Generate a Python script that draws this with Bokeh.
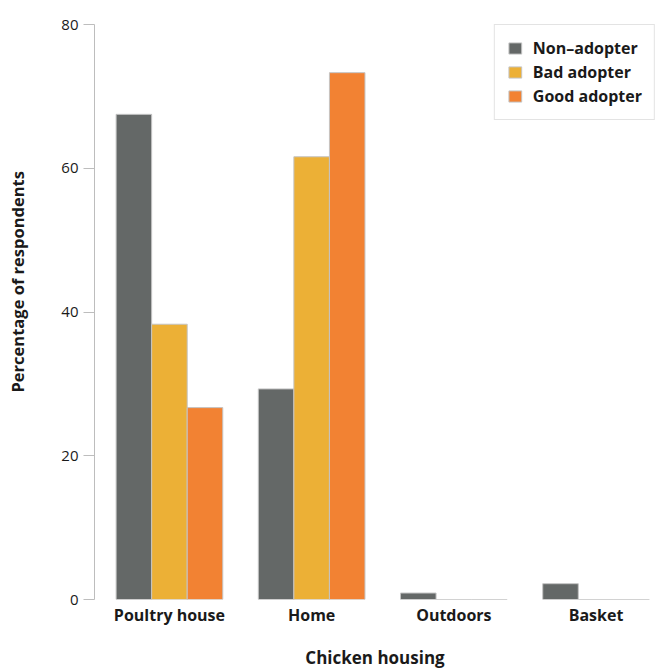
import math
from bokeh.plotting import figure
from bokeh.models import ColumnDataSource, FixedTicker, Range1d, Legend, LegendItem, Label
from bokeh.embed import file_html
from bokeh.resources import INLINE

categories = ["Poultry house", "Home", "Outdoors", "Basket"]
series_names = ["Non\u2013adopter", "Bad adopter", "Good adopter"]
non_adopter = [67.5, 29.3, 0.9, 2.2]
bad_adopter = [38.3, 61.6, 0.0, 0.0]
good_adopter = [26.7, 73.3, 0.0, 0.0]
y_ticks = [0, 20, 40, 60, 80]
x_title = "Chicken housing"
y_title = "Percentage of respondents"

colors = ["#646867", "#ecb036", "#f28233"]
series = [non_adopter, bad_adopter, good_adopter]
offsets = [-0.25, 0.0, 0.25]
bar_w = 0.25

BOLD = "Open Sans"
TXT = "#1a1a1a"
p = figure(width=659, height=671, output_backend="svg", toolbar_location=None,
           x_range=Range1d(-0.527, 3.418), y_range=Range1d(0, 80),
           min_border_left=94, min_border_right=4, min_border_top=24, min_border_bottom=71)
p.outline_line_color = None
p.xgrid.grid_line_color = None
p.ygrid.grid_line_color = None

items = []
xs = list(range(len(categories)))
for name, vals, col, off in zip(series_names, series, colors, offsets):
    src = ColumnDataSource(dict(x=[i + off for i in xs], top=vals, cat=categories))
    r = p.vbar(x="x", top="top", bottom=0, width=bar_w, source=src,
               fill_color=col, line_color="#c4c4c4", line_width=1)
    items.append(LegendItem(label=name, renderers=[r]))

legend = Legend(items=items, location="top_right", margin=0, padding=12,
                glyph_width=16, glyph_height=14, label_height=18, spacing=2,
                label_standoff=10, border_line_color="#c8c8c8", border_line_width=1,
                label_text_font=BOLD, label_text_font_style="bold",
                label_text_font_size="16px", label_text_color=TXT,
                background_fill_color="white")
p.add_layout(legend)

ya = p.yaxis[0]
ya.ticker = FixedTicker(ticks=y_ticks)
ya.minor_tick_line_color = None
ya.major_tick_in = 0
ya.major_tick_out = 11
ya.major_tick_line_color = "#bdbdbd"
ya.axis_line_color = "#bdbdbd"
ya.major_label_standoff = 5
ya.major_label_text_font = "Open Sans"
ya.major_label_text_font_size = "15px"
ya.major_label_text_color = TXT

p.add_layout(Label(x=-18, y=207, x_units="screen", y_units="screen", angle=math.pi / 2,
                   text=y_title, text_align="left", text_baseline="middle",
                   text_font=BOLD, text_font_style="bold", text_font_size="16.5px",
                   text_color=TXT), "left")

xa = p.xaxis[0]
xa.ticker = FixedTicker(ticks=xs)
xa.major_label_overrides = {i: c for i, c in zip(xs, categories)}
xa.minor_tick_line_color = None
xa.major_tick_in = 0
xa.major_tick_out = 0
xa.major_tick_line_color = None
xa.axis_line_color = None
xa.major_label_standoff = 4
xa.major_label_text_font = BOLD
xa.major_label_text_font_style = "bold"
xa.major_label_text_font_size = "16px"
xa.major_label_text_color = TXT
xa.axis_label = x_title
xa.axis_label_text_font = BOLD
xa.axis_label_text_font_style = "bold"
xa.axis_label_text_font_size = "17px"
xa.axis_label_text_color = TXT
xa.axis_label_standoff = 17

open("out.html", "w").write(file_html(p, INLINE))
